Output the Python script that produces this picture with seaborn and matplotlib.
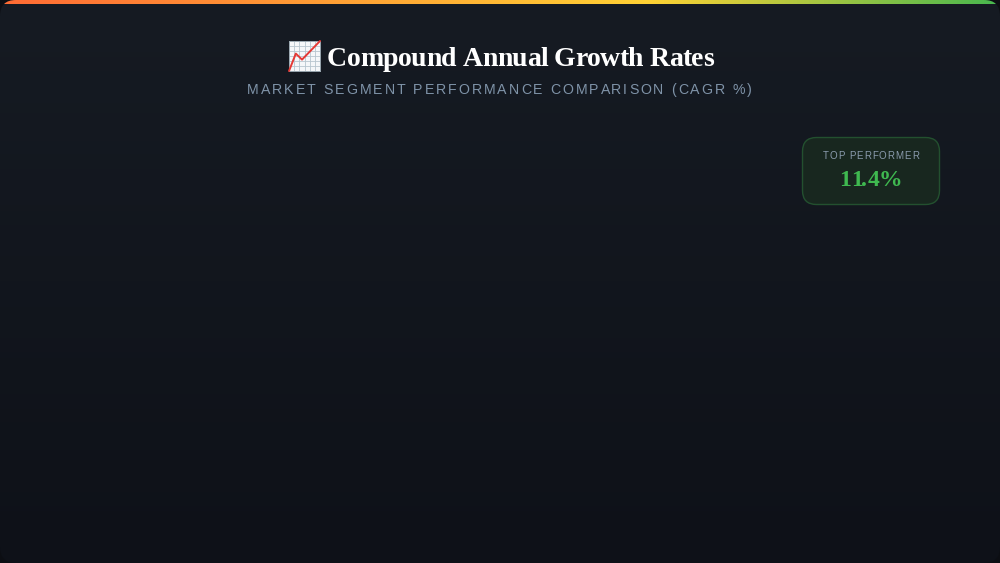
import numpy as np
import pandas as pd
import matplotlib
matplotlib.use("Agg")
import matplotlib.pyplot as plt
import seaborn as sns
from matplotlib.colors import LinearSegmentedColormap
from matplotlib.patches import FancyBboxPatch
from matplotlib.text import Text
from matplotlib.transforms import Bbox

TITLE = "Compound Annual Growth Rates"
SUBTITLE = "MARKET SEGMENT PERFORMANCE COMPARISON (CAGR %)"
KPI_LABEL = "TOP PERFORMER"
KPI_VALUE = "11.4%"
ICON_X = [0.0, 0.22, 0.42, 1.0]
ICON_Y = [0.0, 0.58, 0.38, 1.0]

BG_TOP = "#161b23"
BG_BOTTOM = "#0e1118"
BAR_STOPS = [(0.0, "#ff6b35"), (0.65, "#ffd234"), (1.0, "#48b84f")]


class TrackedText(Text):
    """One text object, drawn with CSS-like letter spacing (in pixels)."""

    def __init__(self, *args, tracking=0.0, **kwargs):
        super().__init__(*args, **kwargs)
        self._tracking = tracking

    def _advance(self, renderer, s):
        if not s:
            return 0.0
        w, _, _ = renderer.get_text_width_height_descent(
            s.replace(" ", "\u00a0"), self.get_fontproperties(), False)
        return w

    def _width(self, renderer):
        s = self.get_text()
        return self._advance(renderer, s) + self._tracking * (len(s) - 1)

    def get_window_extent(self, renderer=None, dpi=None):
        renderer = renderer or self.figure.canvas.get_renderer()
        base = super().get_window_extent(renderer, dpi)
        cx = (base.x0 + base.x1) / 2
        w = self._width(renderer)
        return Bbox.from_extents(cx - w / 2, base.y0, cx + w / 2, base.y1)

    def draw(self, renderer):
        if not self.get_visible():
            return
        s = self.get_text()
        x0, y0 = self.get_transform().transform(self.get_position())
        left = x0 - self._width(renderer) / 2
        inv = self.figure.transFigure.inverted()
        for i, ch in enumerate(s):
            if ch == " ":
                continue
            px = left + self._advance(renderer, s[:i]) + self._tracking * i
            fx, fy = inv.transform((px, y0))
            t = Text(fx, fy, ch, fontproperties=self.get_fontproperties(),
                     color=self.get_color(), ha="left", va="baseline",
                     transform=self.figure.transFigure)
            t.set_figure(self.figure)
            t.draw(renderer)


sns.set_theme(style="dark", rc={"axes.grid": False})
fig = plt.figure(figsize=(10, 5.63), dpi=100, facecolor="#0c0e13")
ax = fig.add_axes([0, 0, 1, 1])
ax.set_xlim(0, 1000)
ax.set_ylim(563, 0)
ax.axis("off")

cmap = LinearSegmentedColormap.from_list("bg", [BG_TOP, BG_BOTTOM])
card = FancyBboxPatch((0, 0), 1000, 563, boxstyle="round,pad=0,rounding_size=16",
                      fc="none", ec="none", transform=ax.transData)
ax.add_patch(card)
bg = ax.imshow(np.linspace(0, 1, 256)[:, None], cmap=cmap, aspect="auto",
               extent=(0, 1000, 563, 0), zorder=0)
bg.set_clip_path(card)

bar_cmap = LinearSegmentedColormap.from_list("bar", BAR_STOPS)
bar = ax.imshow(np.linspace(0, 1, 512)[None, :], cmap=bar_cmap, aspect="auto",
                extent=(0, 1000, 4, 0), zorder=1)
bar.set_clip_path(card)
ax.set_xlim(0, 1000)
ax.set_ylim(563, 0)


def add_text(x, y, s, tracking=0.0, **kw):
    fx, fy = x / 1000, 1 - y / 563
    t = TrackedText(fx, fy, s, tracking=tracking, ha="center", va="baseline",
                    transform=fig.transFigure, **kw)
    fig.add_artist(t)
    return t


add_text(520.2, 66, TITLE, tracking=-0.5, family="Liberation Serif",
         weight="bold", size=20, color="#ffffff")
add_text(499.5, 94, SUBTITLE, tracking=2.0, family="Liberation Sans",
         size=10.15, color="#7f93a8")

ax.add_patch(FancyBboxPatch((802.5, 137.5), 137, 67,
                            boxstyle="round,pad=0,rounding_size=14",
                            fc="#18271f", ec="#23502f", lw=1, zorder=2))
add_text(870.8, 159, KPI_LABEL, tracking=1.0, family="Liberation Sans",
         size=7, color="#8a9bad")
add_text(870.8, 186, KPI_VALUE, family="Liberation Serif", weight="bold",
         size=17, color="#3fb950")

# chart emoji (no emoji font is installed), drawn as a tiny line chart
icon = fig.add_axes([289 / 1000, 1 - 71 / 563, 31 / 1000, 30 / 563])
icon.set_facecolor("#f5f7f9")
sns.lineplot(data=pd.DataFrame({"x": ICON_X, "y": ICON_Y}), x="x", y="y",
             ax=icon, color="#e53935", lw=1.4, zorder=3, clip_on=False)
icon.set_xlim(0, 1)
icon.set_ylim(0, 1)
icon.set_xticks(np.arange(1, 6) / 6)
icon.set_yticks(np.arange(1, 6) / 6)
icon.grid(True, color="#b8c5ce", lw=0.6)
icon.tick_params(length=0, labelbottom=False, labelleft=False)
icon.set_xlabel("")
icon.set_ylabel("")
for sp in icon.spines.values():
    sp.set_color("#9aa7b0")
    sp.set_linewidth(0.7)

fig.savefig("out.png", dpi=100, facecolor=fig.get_facecolor())
